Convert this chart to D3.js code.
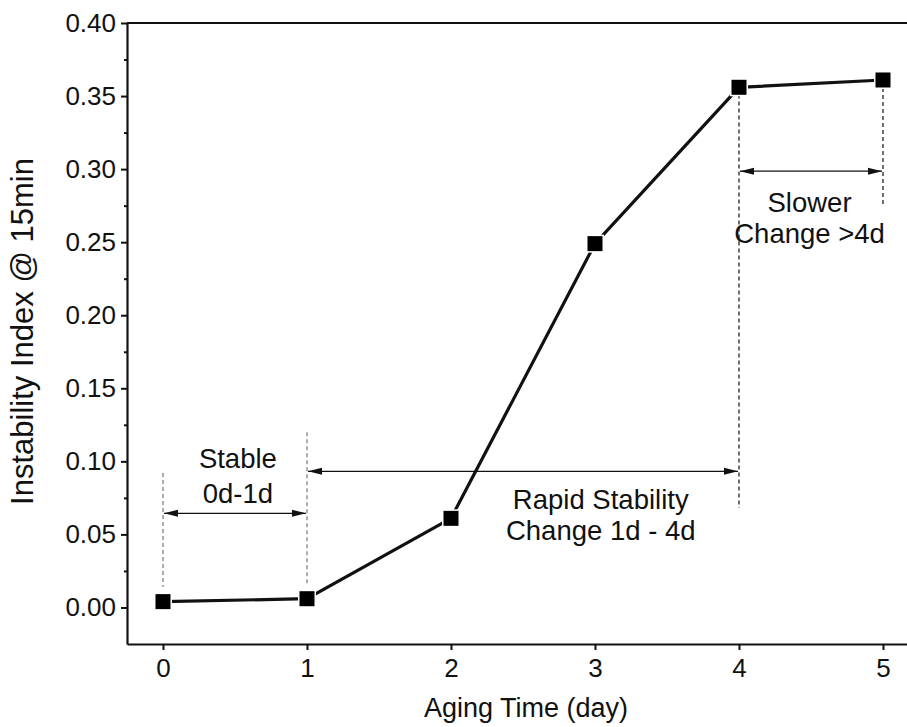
<!DOCTYPE html>
<html>
<head>
<meta charset="utf-8">
<script src="https://cdn.jsdelivr.net/npm/d3@7/dist/d3.min.js"></script>
<style>
  html, body { margin: 0; padding: 0; background: #fff; }
  svg { display: block; }
  text { font-family: "Liberation Sans", Arial, Helvetica, sans-serif; fill: #111; }
</style>
</head>
<body>
<svg id="chart" width="907" height="727"></svg>
<script>
// Aging time (days) and measured instability index after 15 min
const days = [0, 1, 2, 3, 4, 5];
const instability = [0.004, 0.006, 0.061, 0.249, 0.356, 0.361];

const xTicks = [0, 1, 2, 3, 4, 5];
const yTicks = [0.00, 0.05, 0.10, 0.15, 0.20, 0.25, 0.30, 0.35, 0.40];
const yMinorTicks = [0.025, 0.075, 0.125, 0.175, 0.225, 0.275, 0.325, 0.375];

const xTitle = "Aging Time (day)";
const yTitle = "Instability Index @ 15min";

// Reference guides: day, top value, bottom value, tone
const guideDays = [0, 1, 4, 5];
const guideTop = [0.092, 0.120, 0.351, 0.3555];
const guideBottom = [0.014, 0.015, 0.068, 0.2755];
const guideTone = ["#777", "#777", "#111", "#111"];

// Span arrows between phases
const spanFrom = [0, 1, 4];
const spanTo = [1, 4, 5];
const spanLevel = [0.0644, 0.0932, 0.2986];
const spanLabels = [["Stable", "0d-1d"], ["Rapid Stability", "Change 1d - 4d"], ["Slower", "Change >4d"]];
const spanLabelDay = [0.52, 3.04, 4.49];
const spanLabelLevel = [[0.102, 0.078], [0.074, 0.053], [0.277, 0.256]];

const svg = d3.select("#chart");
const plotLeft = 127, plotTop = 23, plotRight = 919, plotBottom = 644;
const tickFont = 26, noteFont = 27.5, xTitleFont = 27, yTitleFont = 31;

const x = d3.scaleLinear().domain([-0.25, 5.25]).range([plotLeft, plotRight]);
const y = d3.scaleLinear().domain([-0.025, 0.40]).range([plotBottom, plotTop]);

// Top frame edge (no ticks)
svg.append("line").attr("x1", plotLeft).attr("x2", plotRight).attr("y1", plotTop).attr("y2", plotTop)
  .attr("stroke", "#111").attr("stroke-width", 2.2);

// X axis
const xAxis = svg.append("g").attr("transform", `translate(0,${plotBottom})`)
  .call(d3.axisBottom(x).tickValues(xTicks).tickFormat(d3.format("d"))
    .tickSize(6).tickSizeOuter(0).tickPadding(9));
xAxis.select(".domain").attr("stroke", "#111").attr("stroke-width", 2.2);
xAxis.selectAll(".tick line").attr("stroke", "#111").attr("stroke-width", 2);
xAxis.selectAll(".tick text").attr("font-size", tickFont).style("fill", "#111");

// Y axis
const yAxis = svg.append("g").attr("transform", `translate(${plotLeft},0)`)
  .call(d3.axisLeft(y).tickValues(yTicks).tickFormat(d3.format(".2f"))
    .tickSize(6).tickSizeOuter(0).tickPadding(5));
yAxis.select(".domain").attr("stroke", "#111").attr("stroke-width", 2.2);
yAxis.selectAll(".tick line").attr("stroke", "#111").attr("stroke-width", 2);
yAxis.selectAll(".tick text").attr("font-size", tickFont).style("fill", "#111");

svg.append("g").attr("transform", `translate(${plotLeft},0)`)
  .call(d3.axisLeft(y).tickValues(yMinorTicks).tickFormat("").tickSize(3))
  .call(g => g.select(".domain").remove())
  .selectAll(".tick line").attr("stroke", "#111").attr("stroke-width", 2);

// Axis titles
svg.append("text").attr("x", 526).attr("y", 717)
  .attr("text-anchor", "middle").attr("font-size", xTitleFont).text(xTitle);
svg.append("text").attr("transform", `translate(33,${(plotTop + plotBottom) / 2 - 2}) rotate(-90)`)
  .attr("text-anchor", "middle").attr("font-size", yTitleFont).text(yTitle);

// Dashed guides
guideDays.forEach((d, i) => {
  svg.append("line")
    .attr("x1", x(d)).attr("x2", x(d))
    .attr("y1", y(guideTop[i])).attr("y2", y(guideBottom[i]))
    .attr("stroke", guideTone[i]).attr("stroke-width", 1.2)
    .attr("stroke-dasharray", "4,3");
});

// Double-headed span arrows
const defs = svg.append("defs");
defs.append("marker").attr("id", "head").attr("viewBox", "0 0 14 8")
  .attr("refX", 14).attr("refY", 4).attr("markerWidth", 14).attr("markerHeight", 8)
  .attr("markerUnits", "userSpaceOnUse").attr("orient", "auto-start-reverse")
  .append("path").attr("d", "M0,0.5 L14,4 L0,7.5 Z").attr("fill", "#111");

spanFrom.forEach((d, i) => {
  svg.append("line")
    .attr("x1", x(d) + 1).attr("x2", x(spanTo[i]) - 1)
    .attr("y1", y(spanLevel[i])).attr("y2", y(spanLevel[i]))
    .attr("stroke", "#111").attr("stroke-width", 1.3)
    .attr("marker-start", "url(#head)").attr("marker-end", "url(#head)");
  spanLabels[i].forEach((t, j) => {
    svg.append("text")
      .attr("x", x(spanLabelDay[i])).attr("y", y(spanLabelLevel[i][j]))
      .attr("dy", "0.35em").attr("text-anchor", "middle").attr("font-size", noteFont)
      .text(t);
  });
});

// Data line with square markers
const line = d3.line().x((d, i) => x(days[i])).y(d => y(d));
svg.append("path").datum(instability)
  .attr("d", line).attr("fill", "none")
  .attr("stroke", "#111").attr("stroke-width", 3.2);

const size = 15;
svg.append("g").selectAll("rect").data(instability).join("rect")
  .attr("x", (d, i) => x(days[i]) - size / 2)
  .attr("y", d => y(d) - size / 2)
  .attr("width", size).attr("height", size)
  .attr("fill", "#000").attr("stroke", "#fff").attr("stroke-width", 3)
  .attr("paint-order", "stroke");
</script>
</body>
</html>
